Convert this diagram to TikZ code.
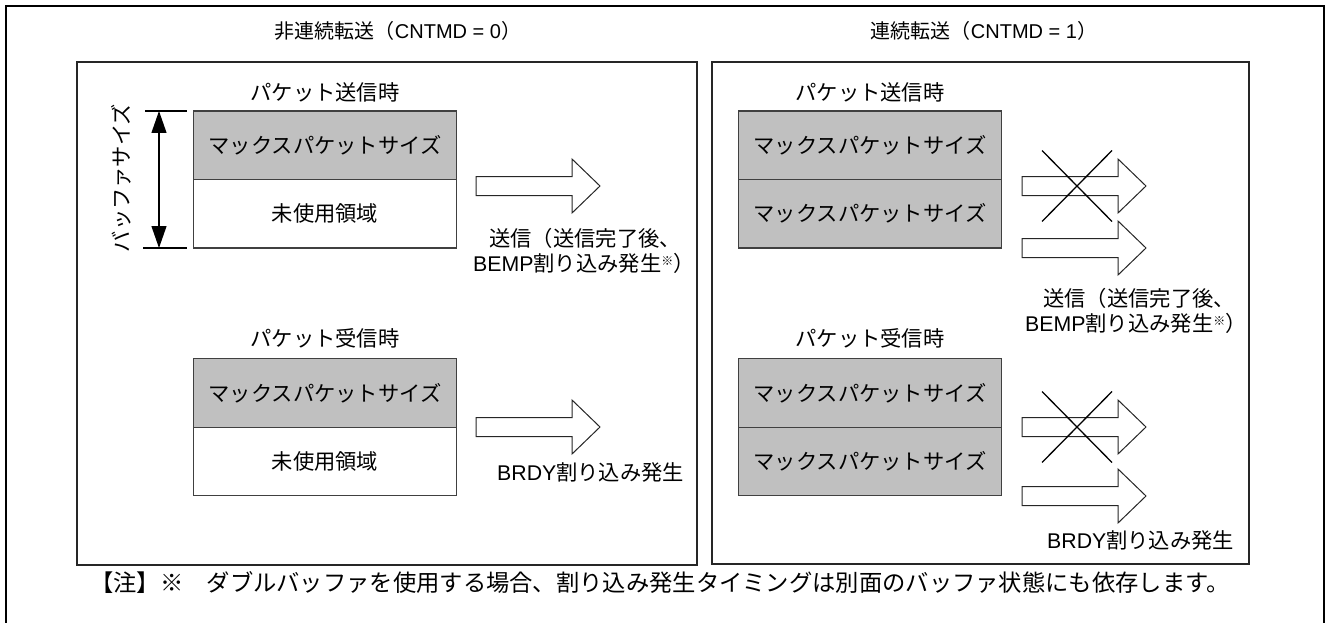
\documentclass[tikz,border=0pt]{standalone}
\usepackage{fontspec}
\setmainfont{Noto Sans CJK JP}
\newfontfamily\latn{Liberation Sans}
\usetikzlibrary{arrows.meta}
\definecolor{boxgray}{RGB}{192,192,192}
\newcommand\hollowarr[2]{%
  \draw[harrow] (#1,#2-9.5) -- ++(96,0) -- ++(0,-17.5) -- ++(28,27) -- ++(-28,27) -- ++(0,-17.5) -- ++(-96,0) -- cycle;}
\newcommand\crossmark[2]{%
  \draw[crossln] (#1,#2-35.5) -- (#1+70,#2+35.5);
  \draw[crossln] (#1+70,#2-35.5) -- (#1,#2+35.5);}
\newcommand\refmark{{\fontsize{12}{12}\selectfont\raisebox{6pt}{※}}}
\begin{document}
\begin{tikzpicture}[x=1pt,y=-1pt,
  frame/.style={draw=black, line width=2pt},
  panel/.style={draw=black!85, line width=1.4pt},
  membox/.style={draw=black!75, line width=1.2pt, minimum width=263pt, minimum height=68.5pt, inner sep=0pt, font=\fontsize{21.3}{25}\selectfont},
  usedbox/.style={membox, fill=boxgray},
  freebox/.style={membox, fill=white},
  lbl/.style={font=\fontsize{21.3}{25}\selectfont, inner sep=0pt},
  ttl/.style={font=\fontsize{20}{24}\selectfont, inner sep=0pt},
  harrow/.style={draw=black!85, line width=1pt, fill=white},
  crossln/.style={draw=black, line width=1.3pt},
  dimln/.style={draw=black, line width=1.2pt}
]
\useasboundingbox (0,0) rectangle (1325,623);
\clip (0,0) rectangle (1325,623);
% outer frame
\draw[frame] (6,640) -- (6,6) -- (1324,6) -- (1324,640);
% panels
\draw[panel] (77,62) rectangle (697,565);
\draw[panel] (712,62) rectangle (1249,564);
\node[ttl] (t0) at (398,31) {非連続転送（{\latn CNTMD = 0}）};
\node[ttl] (t1) at (984,31) {連続転送（{\latn CNTMD = 1}）};

% ---- left panel, send
\node[lbl] (ls) at (325,92) {パケット送信時};
\node[usedbox] (lsa) at (325,145.25) {マックスパケットサイズ};
\node[freebox] (lsb) at (325,213.75) {未使用領域};
\draw[dimln] (145,111) -- (187,111);
\draw[dimln] (143,248) -- (187,248);
\coordinate (dimtop) at (159,111);
\coordinate (dimbot) at (159,248);
\draw[dimln, {Triangle[length=22pt,width=15pt]}-{Triangle[length=22pt,width=15pt]}] (dimtop) -- (dimbot);
\node[lbl, rotate=90] (bsz) at (121,178) {バッファサイズ};
\hollowarr{476}{186}
\node[lbl, anchor=west] (lst1) at (489,238) {送信（送信完了後、};
\node[lbl, anchor=west] (lst2) at (473,263) {{\latn BEMP}割り込み発生\refmark）};

% ---- left panel, receive
\node[lbl] (lr) at (325,338) {パケット受信時};
\node[usedbox] (lra) at (325,393) {マックスパケットサイズ};
\node[freebox] (lrb) at (325,461.5) {未使用領域};
\hollowarr{476}{427}
\node[lbl, anchor=west] (lrt) at (497,472) {{\latn BRDY}割り込み発生};

% ---- right panel, send
\node[lbl] (rs) at (870,92) {パケット送信時};
\node[usedbox] (rsa) at (870,145.25) {マックスパケットサイズ};
\node[usedbox] (rsb) at (870,213.75) {マックスパケットサイズ};
\hollowarr{1022}{186}
\crossmark{1042}{186}
\hollowarr{1022}{248}
\node[lbl, anchor=west] (rst1) at (1043,298) {送信（送信完了後、};
\node[lbl, anchor=west] (rst2) at (1025,323) {{\latn BEMP}割り込み発生\refmark）};

% ---- right panel, receive
\node[lbl] (rr) at (870,338) {パケット受信時};
\node[usedbox] (rra) at (870,393) {マックスパケットサイズ};
\node[usedbox] (rrb) at (870,461.5) {マックスパケットサイズ};
\hollowarr{1022}{427}
\crossmark{1042}{427}
\hollowarr{1022}{496}
\node[lbl, anchor=west] (rrt) at (1047,540) {{\latn BRDY}割り込み発生};

% note
\node[lbl, anchor=west, font=\fontsize{23.3}{26}\selectfont] (note) at (90,583) {【注】※　ダブルバッファを使用する場合、割り込み発生タイミングは別面のバッファ状態にも依存します。};
\end{tikzpicture}
\end{document}
